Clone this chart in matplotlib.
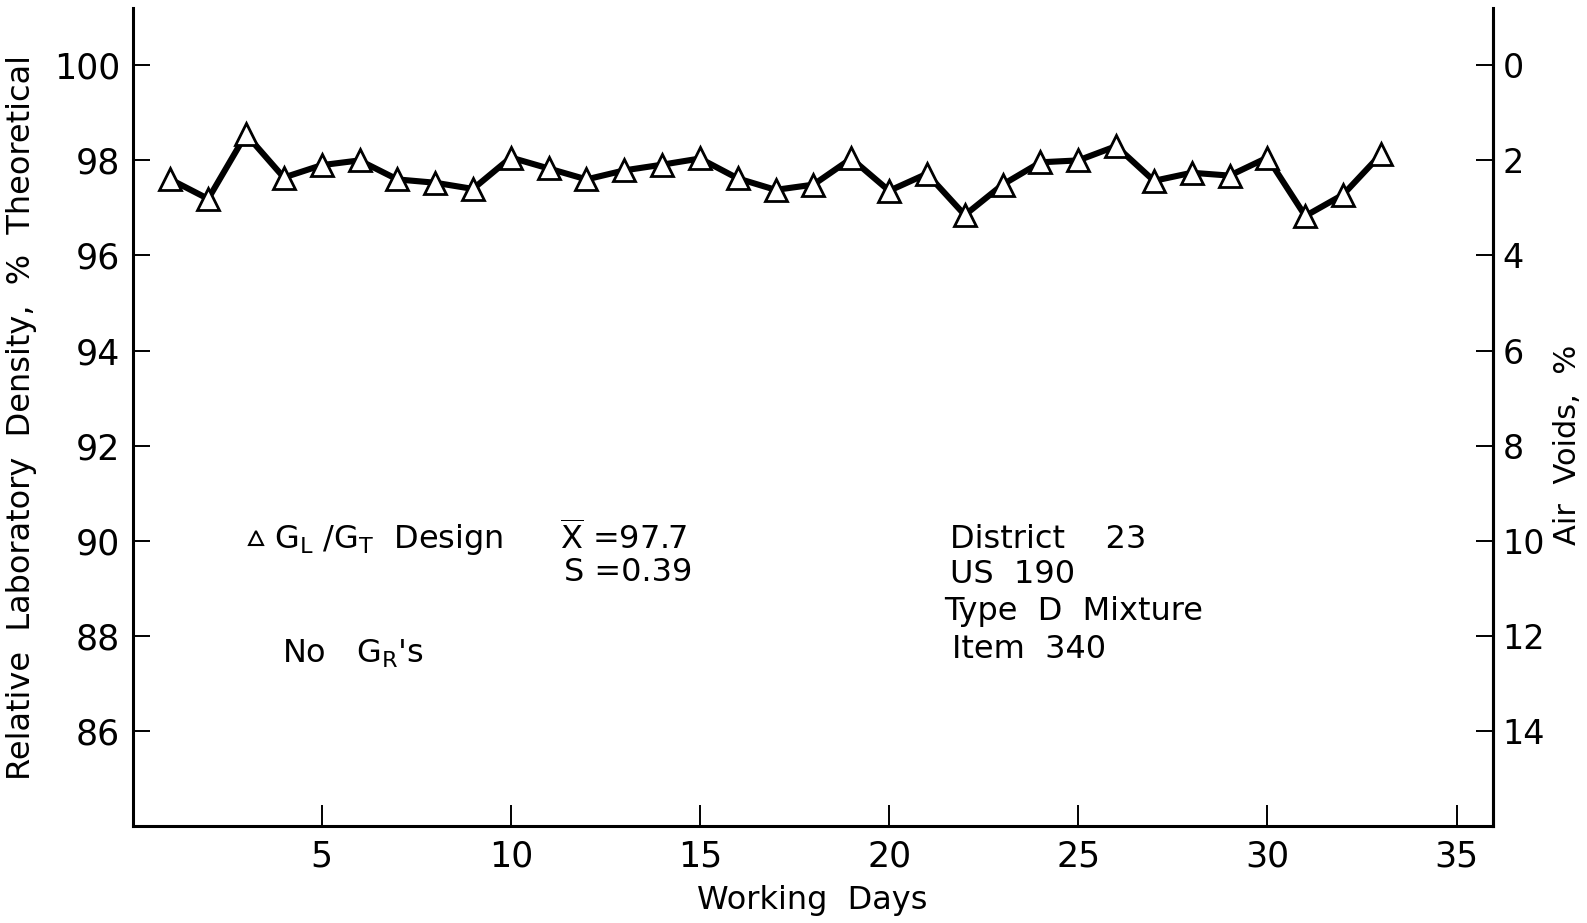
import matplotlib
matplotlib.use("Agg")
import matplotlib.pyplot as plt

# Daily relative laboratory density (G_L/G_T, % of theoretical)
days = list(range(1, 34))
density = [97.60, 97.19, 98.55, 97.64, 97.90, 98.00, 97.60, 97.53, 97.40, 98.06,
           97.83, 97.60, 97.79, 97.91, 98.04, 97.62, 97.38, 97.49, 98.04, 97.36,
           97.72, 96.85, 97.49, 97.96, 98.00, 98.30, 97.57, 97.74, 97.68, 98.06,
           96.83, 97.28, 98.13]

x_ticks = [5, 10, 15, 20, 25, 30, 35]
y_ticks = [86, 88, 90, 92, 94, 96, 98, 100]
void_ticks = [0, 2, 4, 6, 8, 10, 12, 14]

plt.rcParams["font.family"] = ["DejaVu Sans"]
plt.rcParams["mathtext.default"] = "regular"

fig = plt.figure(figsize=(15.87, 9.23), dpi=100)
ax = fig.add_axes([0.0835, 0.1053, 0.857, 0.8857])

ax.plot(days, density, color="black", lw=4.4, marker="^", ms=16,
        mfc="white", mec="black", mew=2.0, zorder=3)

ax.set_xlim(0, 35.95)
ax.set_ylim(84, 101.2)
ax.set_xticks(x_ticks)
ax.set_yticks(y_ticks)
ax.tick_params(direction="in", length=12, width=1.4, labelsize=25, pad=9)
ax.tick_params(axis="x", length=15, pad=10)
ax.spines["top"].set_visible(False)
for s in ("left", "bottom", "right"):
    ax.spines[s].set_linewidth(2.2)

ax.set_xlabel("Working  Days", fontsize=23, labelpad=8)
ax.set_ylabel("Relative  Laboratory  Density,  %  Theoretical", fontsize=23, labelpad=12)

# Air voids on the right: 100 - density
ax2 = ax.twinx()
ax2.set_ylim(100 - 84, 100 - 101.2)
ax2.set_yticks(void_ticks)
ax2.tick_params(direction="in", length=12, width=1.4, labelsize=24, pad=7)
ax2.spines["right"].set_bounds(16, -0.94)
ax2.spines["right"].set_linewidth(2.2)
for s in ("top", "left", "bottom"):
    ax2.spines[s].set_visible(False)
fig.text(0.9875, 0.518, "Air  Voids,  %", fontsize=22, rotation=90,
         ha="center", va="center")

# Annotation blocks
txt = dict(fontsize=23, va="center", ha="left", color="black")
ax.plot([3.26], [90.06], marker="^", ms=10, mfc="white", mec="black", mew=1.5,
        clip_on=False)
ax.text(3.75, 90.02, r"G$_L$ /G$_T$  Design", **txt)
ax.text(11.3, 90.02, r"$\overline{X}$ =97.7", **txt)
ax.text(11.4, 89.32, "S =0.39", **txt)
ax.text(3.95, 87.62, r"No   G$_R$'s", **txt)

ax.text(21.6, 90.02, "District    23", **txt)
ax.text(21.6, 89.28, "US  190", **txt)
ax.text(21.45, 88.51, "Type  D  Mixture", **txt)
ax.text(21.65, 87.70, "Item  340", **txt)

fig.savefig("out.png", dpi=100)
